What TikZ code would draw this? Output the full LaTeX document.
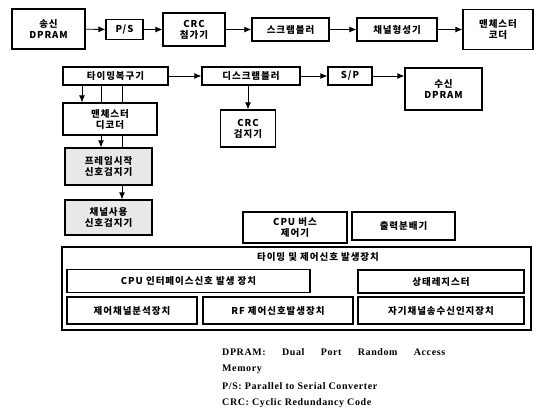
\documentclass[tikz,border=0pt]{standalone}
\usepackage{fontspec}
\setmainfont{Liberation Serif}
\newfontfamily\kr[LetterSpace=10]{Noto Sans CJK KR}
\newfontfamily\legendfnt[LetterSpace=6]{Liberation Serif}
\usetikzlibrary{arrows.meta}
\begin{document}
\begin{tikzpicture}[x=1pt,y=-1pt,
  box/.style={draw=black, line width=1.2pt, fill=white, inner sep=0pt, align=center,
              font=\kr\bfseries\fontsize{9.5}{11}\selectfont},
  gbox/.style={box, fill=gray!18},
  conn/.style={line width=0.9pt},
  arr/.style={conn, -{Latex[length=7pt,width=6pt]}},
  legend/.style={anchor=west, inner sep=0pt, font=\legendfnt\bfseries\fontsize{10}{12}\selectfont}
]
\useasboundingbox (0,0) rectangle (539,408);
% top row
\node[box, minimum width=73pt, minimum height=40pt] (txdp) at (48.5,29) {송신\\DPRAM};
\node[box, minimum width=37pt, minimum height=20pt] (ps) at (124.5,29.5) {P/S};
\node[box, minimum width=62pt, minimum height=33pt] (crca) at (194,29.5) {CRC\\첨가기};
\node[box, minimum width=77pt, minimum height=23pt] (scr) at (290.5,29.5) {스크램블러};
\node[box, minimum width=80pt, minimum height=23pt] (chf) at (397,29.5) {채널형성기};
\node[box, minimum width=70pt, minimum height=40pt] (mcod) at (498,29.5) {맨체스터\\코더};
\draw[arr] (txdp) -- (ps);
\draw[arr] (ps) -- (crca);
\draw[arr] (crca) -- (scr);
\draw[arr] (scr) -- (chf);
\draw[arr] (chf) -- (mcod);
% receive chain
\node[box, minimum width=105pt, minimum height=18pt] (trec) at (115.5,76) {타이밍복구기};
\node[box, minimum width=98pt, minimum height=18pt] (dscr) at (251,76) {디스크램블러};
\node[box, minimum width=44pt, minimum height=18pt] (sp) at (350,76) {S/P};
\node[box, minimum width=77pt, minimum height=42pt] (rxdp) at (443.5,89) {수신\\DPRAM};
\draw[arr] (trec) -- (dscr);
\draw[arr] (dscr) -- (sp);
\draw[arr] (sp.east) -- (sp.east -| rxdp.west);
\node[box, minimum width=55pt, minimum height=37pt] (crcc) at (248,128.5) {CRC\\검지기};
\draw[arr] (dscr.south -| crcc.north) -- (crcc.north);
% left column
\node[box, minimum width=94pt, minimum height=32pt] (mdec) at (110,119) {맨체스터\\디코더};
\node[gbox, minimum width=87pt, minimum height=37pt] (fsd) at (108.5,166.5) {프레임시작\\신호검지기};
\node[gbox, minimum width=87pt, minimum height=35pt] (cud) at (108.5,217.5) {채널사용\\신호검지기};
\coordinate (c1) at (82,0);
\coordinate (c2) at (101,0);
\coordinate (c3) at (122,0);
\draw[arr] (trec.south -| c1) -- (mdec.north -| c1);
\draw[conn] (trec.south -| c2) -- (mdec.north -| c2);
\draw[conn] (trec.south -| c3) -- (mdec.north -| c3);
\draw[arr] (mdec.south -| c2) -- (fsd.north -| c2);
\draw[conn] (mdec.south -| c3) -- (fsd.north -| c3);
\draw[arr] (fsd.south -| c3) -- (cud.north -| c3);
% CPU bus and output distributor
\node[box, minimum width=104pt, minimum height=31pt] (cpub) at (295,227.5) {CPU 버스\\제어기};
\node[box, minimum width=103pt, minimum height=28pt] (outd) at (403.5,226) {출력분배기};
% timing and control block
\node[draw=black, line width=1.2pt, fill=white, minimum width=469pt, minimum height=83pt, inner sep=0pt] (tcb) at (296.5,288.5) {};
\node[inner sep=0pt, font=\kr\bfseries\fontsize{9.5}{11}\selectfont] (tcbt) at (318,257) {타이밍 및 제어신호 발생장치};
\node[box, minimum width=243pt, minimum height=23pt] (cpui) at (188.5,281) {CPU 인터페이스신호 발생 장치};
\node[box, minimum width=166pt, minimum height=23pt] (stat) at (441,281.5) {상태레지스터};
\node[box, minimum width=130pt, minimum height=27pt] (ccan) at (132,310.5) {제어채널분석장치};
\node[box, minimum width=150pt, minimum height=27pt] (rfc) at (278,310.5) {RF 제어신호발생장치};
\node[box, minimum width=166pt, minimum height=27pt] (selfc) at (441,310.5) {자기채널송수신인지장치};
% legend
\node[legend] (l1) at (222,352) {\makebox[223pt][s]{DPRAM:\hfill Dual\hfill Port\hfill Random\hfill Access}};
\node[legend] (l2) at (222,369) {Memory};
\node[legend] (l3) at (222,386) {P/S: Parallel to Serial Converter};
\node[legend] (l4) at (222,403) {CRC: Cyclic Redundancy Code};
\end{tikzpicture}
\end{document}
